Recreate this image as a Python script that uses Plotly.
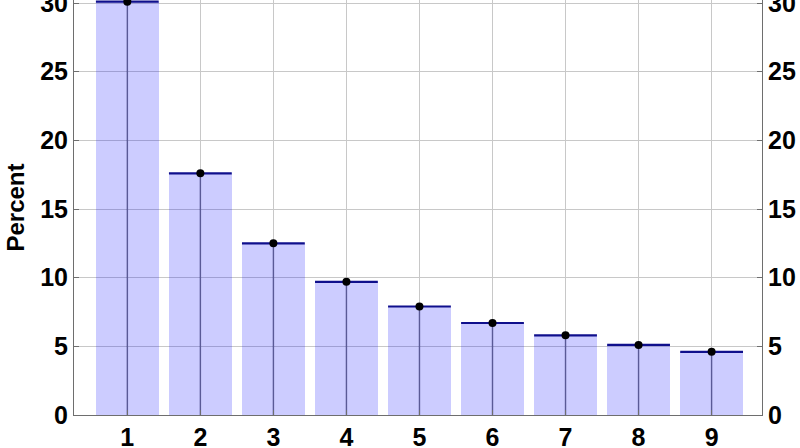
import plotly.graph_objects as go

# Leading digit distribution (percent)
digits = [1, 2, 3, 4, 5, 6, 7, 8, 9]
percent = [30.1, 17.6, 12.5, 9.7, 7.9, 6.7, 5.8, 5.1, 4.6]
y_ticks = [0, 5, 10, 15, 20, 25, 30]

BAR_WIDTH = 0.86
FONT = "Liberation Sans, Arial, sans-serif"

# stems and bar tops built from the data
stem_x, stem_y, top_x, top_y = [], [], [], []
for d, p in zip(digits, percent):
    stem_x += [d, d, None]
    stem_y += [0, p, None]
    top_x += [d - BAR_WIDTH / 2, d + BAR_WIDTH / 2, None]
    top_y += [p, p, None]

fig = go.Figure()

fig.add_trace(go.Bar(
    x=digits, y=percent, width=BAR_WIDTH,
    marker=dict(color="rgba(0, 0, 255, 0.2)", line=dict(width=0)),
    showlegend=False,
))
fig.add_trace(go.Scatter(
    x=stem_x, y=stem_y, mode="lines",
    line=dict(color="rgba(20, 20, 90, 0.5)", width=1.5),
    showlegend=False,
))
fig.add_trace(go.Scatter(
    x=top_x, y=top_y, mode="lines",
    line=dict(color="rgb(15, 15, 140)", width=2.2),
    showlegend=False,
))
fig.add_trace(go.Scatter(
    x=digits, y=percent, mode="markers",
    marker=dict(color="black", size=8),
    showlegend=False,
))
# dummy trace to activate right axis
fig.add_trace(go.Scatter(x=[digits[0]], y=[0], yaxis="y2", mode="markers",
                         marker=dict(opacity=0), showlegend=False, hoverinfo="skip"))

y_range = [0, 30.22]
axis_common = dict(
    showline=True, linecolor="rgb(110, 110, 110)", linewidth=1,
    ticks="inside", ticklen=5, tickcolor="rgb(110, 110, 110)",
    tickfont=dict(family=FONT, size=25, color="black", weight="bold"),
    ticklabeloverflow="allow",
    automargin=False,
)

fig.update_layout(
    width=800, height=448,
    margin=dict(l=74, r=38, t=0, b=33),
    plot_bgcolor="white", paper_bgcolor="white",
    bargap=0,
    xaxis=dict(
        range=[0.27, 9.69], tickvals=digits,
        showgrid=True, gridcolor="rgb(200, 200, 200)", gridwidth=1,
        zeroline=False, **axis_common,
    ),
    yaxis=dict(
        range=y_range, tickvals=y_ticks,
        showgrid=True, gridcolor="rgb(200, 200, 200)", gridwidth=1,
        zeroline=False,
        title=dict(text="Percent", font=dict(family=FONT, size=24, color="black", weight="bold"),
                   standoff=8),
        **axis_common,
    ),
    yaxis2=dict(
        range=y_range, tickvals=y_ticks, overlaying="y", side="right",
        showgrid=False, zeroline=False, **axis_common,
    ),
)

# page body has a default margin; remove it so the figure sits at the window corner
fig.write_html("out.html", config={"displayModeBar": False},
               post_script="document.body.style.margin = '0';")
